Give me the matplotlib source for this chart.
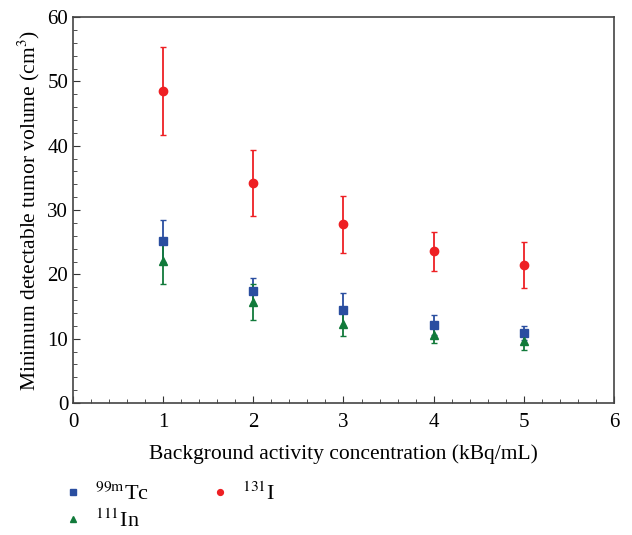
import numpy as np
import matplotlib.pyplot as plt
from matplotlib.ticker import MultipleLocator

plt.rcParams['font.family'] = ['Liberation Serif', 'DejaVu Serif']
plt.rcParams['mathtext.fontset'] = 'stix'

conc = [1, 2, 3, 4, 5]

# 99mTc
tc_mean = [25.2, 17.4, 14.5, 12.1, 10.9]
tc_err = [3.3, 2.0, 2.6, 1.6, 1.1]

# 111In
in_mean = [22.1, 15.7, 12.3, 10.6, 9.6]
in_err = [3.6, 2.8, 1.9, 1.3, 1.4]

# 131I
i_mean = [48.5, 34.2, 27.8, 23.6, 21.5]
i_err = [6.9, 5.2, 4.4, 3.0, 3.6]

fig = plt.figure(figsize=(6.32, 5.35), dpi=100)
ax = fig.add_axes([0.1155, 0.2467, 0.856, 0.7213])

blue = '#2a4ea0'
green = '#117a3a'
red = '#ee2024'

ax.errorbar(conc, i_mean, yerr=i_err, fmt='o', color=red, ms=6,
            elinewidth=1.3, capsize=2.5, capthick=1.0, label='$^{131}$I')
ax.errorbar(conc, tc_mean, yerr=tc_err, fmt='s', color=blue, ms=6,
            elinewidth=1.3, capsize=2.5, capthick=1.0, label='$^{99\\mathrm{m}}$Tc')
ax.errorbar(conc, in_mean, yerr=in_err, fmt='^', color=green, ms=6,
            elinewidth=1.3, capsize=2.5, capthick=1.0, label='$^{111}$In')

ax.set_xlim(0, 6)
ax.set_ylim(0, 60)
ax.xaxis.set_major_locator(MultipleLocator(1))
ax.xaxis.set_minor_locator(MultipleLocator(0.2))
ax.yaxis.set_major_locator(MultipleLocator(10))
ax.yaxis.set_minor_locator(MultipleLocator(2))
ax.tick_params(which='both', direction='in', top=False, right=False,
               labelsize=15, color='#333333')
ax.tick_params(axis='x', which='major', pad=7)
ax.tick_params(which='major', length=5)
ax.tick_params(which='minor', length=3)
for s in ax.spines.values():
    s.set_color('#444444')
    s.set_linewidth(1.2)

ax.set_xlabel('Background activity concentration (kBq/mL)', fontsize=15.5, labelpad=9)
ax.set_ylabel('Minimum detectable tumor volume (cm$^3$)', fontsize=15.5, labelpad=4)

# legend below the axes
h, l = ax.get_legend_handles_labels()
order = [1, 2, 0]
fig.legend([h[k][0] for k in order], [l[k] for k in order],
           loc='upper left', bbox_to_anchor=(0.073, 0.132), ncol=2,
           frameon=False, fontsize=16, handlelength=0.8, handletextpad=0.6,
           columnspacing=2.8, labelspacing=0.2, markerscale=0.7,
           borderpad=0.3)

fig.savefig('out.png', dpi=100)
